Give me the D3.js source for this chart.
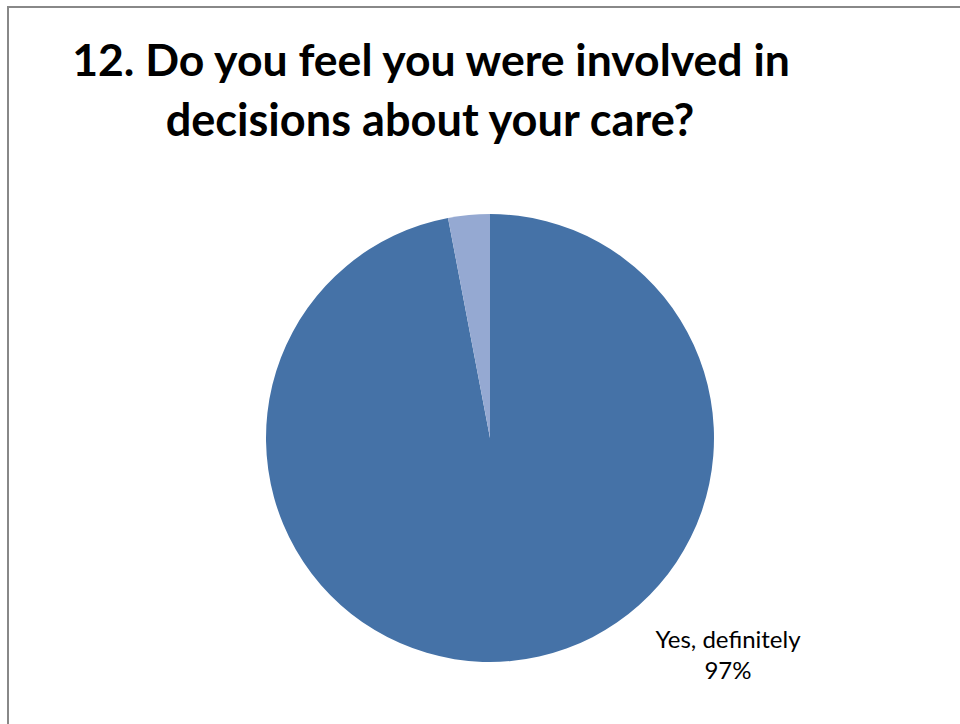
<!DOCTYPE html>
<html>
<head>
<meta charset="utf-8">
<script src="https://cdn.jsdelivr.net/npm/d3@7"></script>
<style>
  body { margin: 0; background: #fff; }
  text { font-family: Lato, "Open Sans", sans-serif; }
</style>
</head>
<body>
<div id="chart"></div>
<script>
// data
var categories = ["Yes, definitely", "Yes, to some extent"];
var values = [97, 3];
var colors = ["#4572A7", "#95A9D2"];
var titleLines = ["12. Do you feel you were involved in", "decisions about your care?"];

var width = 960, height = 724;

var svg = d3.select("#chart").append("svg")
    .attr("width", width)
    .attr("height", height);

// chart border (runs off the right and bottom edge)
svg.append("rect")
    .attr("x", 8).attr("y", 7)
    .attr("width", 1000).attr("height", 1000)
    .style("fill", "#fff")
    .style("stroke", "#888")
    .style("stroke-width", 2);

// title, stretched to the widths seen in the original
var titleSpec = [{x: 431, y: 76, w: 718}, {x: 430, y: 136, w: 529}];
titleLines.forEach(function(t, i) {
    var el = svg.append("text")
        .attr("x", titleSpec[i].x)
        .attr("y", titleSpec[i].y)
        .attr("text-anchor", "middle")
        .style("font-size", "40px")
        .style("font-weight", "bold")
        .style("fill", "#000")
        .text(t);
    var w = el.node().getComputedTextLength();
    el.style("font-size", (40 * titleSpec[i].w / w) + "px");
});

var cx = 490, cy = 438, r = 224;

var pie = d3.pie().sort(null).value(function(d) { return d; });
var arc = d3.arc().innerRadius(0).outerRadius(r);

var g = svg.append("g")
    .attr("transform", "translate(" + cx + "," + cy + ")");

g.selectAll("path")
    .data(pie(values))
    .enter()
    .append("path")
    .attr("d", arc)
    .style("fill", function(d, i) { return colors[i]; });

// data label for the big slice only
var lbl = svg.append("text")
    .attr("text-anchor", "middle")
    .style("font-size", "24px")
    .style("fill", "#000");
lbl.append("tspan").attr("x", 728).attr("y", 648).text(categories[0]);
lbl.append("tspan").attr("x", 728).attr("y", 679).text(values[0] + "%");
</script>
</body>
</html>
